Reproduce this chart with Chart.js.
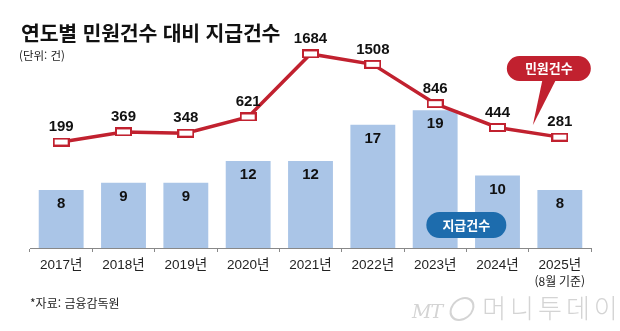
<!DOCTYPE html>
<html lang="ko">
<head>
<meta charset="UTF-8">
<title>연도별 민원건수 대비 지급건수</title>
<script src="https://cdn.jsdelivr.net/npm/chart.js"></script>
<style>
    body { margin: 0; background: #fff; font-family: "Liberation Sans", "Noto Sans CJK KR", sans-serif; }
    #wrap { position: relative; width: 620px; height: 331px; overflow: hidden; }
    #chart { position: absolute; left: 0; top: 0; }
    .title { position: absolute; left: 21px; top: 22px; font-family: "Noto Sans CJK KR", sans-serif; font-weight: 700; font-size: 20.5px; letter-spacing: -0.2px; color: #111; line-height: 1; }
    .unit { position: absolute; left: 19px; top: 47px; font-family: "Noto Sans CJK KR", sans-serif; font-size: 11.5px; color: #222; }
    .source { position: absolute; left: 30px; top: 294px; font-family: "Noto Sans CJK KR", sans-serif; font-size: 12px; color: #222; }
    .logo { position: absolute; left: 412px; top: 288px; color: #d4d4d4; white-space: nowrap; }
    .logo .mt { font-family: "DejaVu Serif", serif; font-style: italic; font-size: 19px; letter-spacing: -1px; }
    .logo .ring { display: inline-block; width: 20px; height: 20px; border: 2px solid #d4d4d4; border-radius: 50%; margin-left: 8px; vertical-align: -3px; transform: skewX(-15deg); }
    .logo .name { font-family: "Noto Sans CJK KR", sans-serif; font-size: 26px; font-weight: 300; letter-spacing: 4px; margin-left: 8px; }
</style>
</head>
<body>
<div id="wrap">
    <canvas id="chart" width="620" height="331"></canvas>
    <div class="title">연도별 민원건수 대비 지급건수</div>
    <div class="unit">(단위: 건)</div>
    <div class="source">*자료: 금융감독원</div>
    <div class="logo"><span class="mt">MT</span><span class="ring"></span><span class="name">머니투데이</span></div>
</div>
<script>
// 데이터
const years = ['2017년', '2018년', '2019년', '2020년', '2021년', '2022년', '2023년', '2024년', '2025년'];
const lastNote = '(8월 기준)';
const complaints = [199, 369, 348, 621, 1684, 1508, 846, 444, 281];   // 민원건수
const payments = [8, 9, 9, 12, 12, 17, 19, 10, 8];                    // 지급건수

const RED = '#c1212f';
const BLUE_BAR = '#aac5e7';
const BLUE_TAG = '#1d6cad';
const NUM_FONT = 'bold 15px "Liberation Sans", Arial, sans-serif';
const KR_FONT = '"Noto Sans CJK KR", sans-serif';

// 민원건수 마커 (가로로 긴 사각형)
function makeMarker() {
    const c = document.createElement('canvas');
    c.width = 17; c.height = 9;
    const g = c.getContext('2d');
    g.fillStyle = '#fff';
    g.fillRect(0, 0, 17, 9);
    g.strokeStyle = RED;
    g.lineWidth = 2;
    g.strokeRect(1, 1, 15, 7);
    return c;
}

function roundRect(g, x, y, w, h, r) {
    g.beginPath();
    g.moveTo(x + r, y);
    g.lineTo(x + w - r, y);
    g.arcTo(x + w, y, x + w, y + r, r);
    g.lineTo(x + w, y + h - r);
    g.arcTo(x + w, y + h, x + w - r, y + h, r);
    g.lineTo(x + r, y + h);
    g.arcTo(x, y + h, x, y + h - r, r);
    g.lineTo(x, y + r);
    g.arcTo(x, y, x + r, y, r);
    g.closePath();
}

// 값 라벨, 범례 말풍선
const labelPlugin = {
    id: 'labels',
    afterDatasetsDraw(chart) {
        const g = chart.ctx;
        const xs = chart.scales.x;
        g.save();
        g.textAlign = 'center';
        g.textBaseline = 'middle';
        g.fillStyle = '#111';
        g.font = NUM_FONT;

        chart.getDatasetMeta(1).data.forEach((bar, i) => {
            g.fillText(String(payments[i]), bar.x, bar.y + 14);
        });
        chart.getDatasetMeta(0).data.forEach((pt, i) => {
            g.fillText(String(complaints[i]), pt.x, pt.y - 15);
        });

        // (8월 기준)
        g.font = '12px ' + KR_FONT;
        g.fillStyle = '#222';
        g.fillText(lastNote, xs.getPixelForValue(years.length - 1), 281);

        // 민원건수 말풍선
        const last = chart.getDatasetMeta(0).data[years.length - 1];
        const px = last.x - 53, py = 56;
        g.fillStyle = RED;
        g.beginPath();
        g.moveTo(px + 36, py + 22);
        g.lineTo(px + 50, py + 22);
        g.lineTo(last.x - 27, last.y - 12);
        g.closePath();
        g.fill();
        roundRect(g, px, py, 84, 25, 12.5);
        g.fill();
        g.fillStyle = '#fff';
        g.font = 'bold 13px ' + KR_FONT;
        g.fillText('민원건수', px + 42, py + 12.5);

        // 지급건수 말풍선
        const bx = (xs.getPixelForValue(6) + xs.getPixelForValue(7)) / 2;
        g.fillStyle = BLUE_TAG;
        roundRect(g, bx - 40, 212, 80, 26, 13);
        g.fill();
        g.fillStyle = '#fff';
        g.fillText('지급건수', bx, 225);
        g.restore();
    }
};

new Chart(document.getElementById('chart'), {
    data: {
        labels: years,
        datasets: [
            {
                type: 'line',
                label: '민원건수',
                data: complaints,
                yAxisID: 'yLine',
                borderColor: RED,
                borderWidth: 3.5,
                pointStyle: makeMarker(),
                pointRadius: 5,
                tension: 0,
                order: 0
            },
            {
                type: 'bar',
                label: '지급건수',
                data: payments,
                yAxisID: 'yBar',
                backgroundColor: BLUE_BAR,
                categoryPercentage: 1,
                barPercentage: 0.72,
                order: 1
            }
        ]
    },
    options: {
        responsive: false,
        animation: false,
        layout: { padding: { left: 30, right: 29, top: 20, bottom: 43 } },
        plugins: {
            legend: { display: false },
            tooltip: { enabled: false }
        },
        scales: {
            x: {
                offset: true,
                grid: { offset: true, drawOnChartArea: false, tickLength: 4, color: '#888' },
                border: { display: true, color: '#888', width: 1 },
                ticks: {
                    color: '#222',
                    padding: 5,
                    font: { size: 13.5, family: '"Liberation Sans", "Noto Sans CJK KR", sans-serif' }
                },
                afterFit(scale) { scale.height = 40; }
            },
            yBar: { display: false, min: 0, max: 31.45 },
            yLine: { display: false, min: -1588, max: 2256 }
        }
    },
    plugins: [labelPlugin]
});
</script>
</body>
</html>
